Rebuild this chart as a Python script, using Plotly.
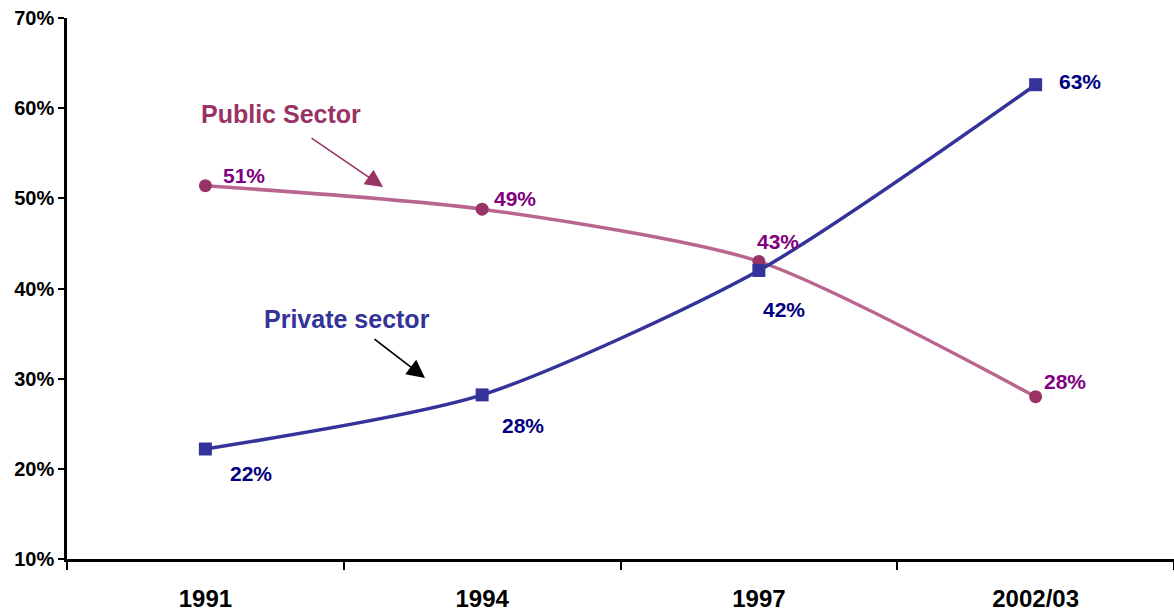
import plotly.graph_objects as go

categories = ["1991", "1994", "1997", "2002/03"]
public_sector = [51.4, 48.8, 43.0, 28.0]
private_sector = [22.2, 28.2, 42.0, 62.6]
public_labels = ["51%", "49%", "43%", "28%"]
private_labels = ["22%", "28%", "42%", "63%"]
y_ticks = [10, 20, 30, 40, 50, 60, 70]
y_tick_labels = ["10%", "20%", "30%", "40%", "50%", "60%", "70%"]

FONT = "Liberation Sans, Arial, sans-serif"
PUB_LINE = "#b8668f"
PUB_MARK = "#993366"
PUB_TEXT = "#800080"
PRI_LINE = "#333399"
PRI_TEXT = "#000080"

idx = list(range(len(categories)))

fig = go.Figure()
fig.add_trace(go.Scatter(
    x=idx, y=public_sector, mode="lines+markers",
    line=dict(color=PUB_LINE, width=3.5, shape="spline", smoothing=0.7),
    marker=dict(symbol="circle", size=13, color=PUB_MARK),
    showlegend=False, hoverinfo="skip",
))
fig.add_trace(go.Scatter(
    x=idx, y=private_sector, mode="lines+markers",
    line=dict(color=PRI_LINE, width=3.5, shape="spline", smoothing=0.7),
    marker=dict(symbol="square", size=13, color=PRI_LINE),
    showlegend=False, hoverinfo="skip",
))

annotations = []
pub_shift = [(39, 10), (33, 11), (19, 20), (29, 15)]
pri_shift = [(46, -24), (41, -31), (25, -39), (44, 3)]
for i, v, t, (dx, dy) in zip(idx, public_sector, public_labels, pub_shift):
    annotations.append(dict(x=i, y=v, text="<b>%s</b>" % t, showarrow=False,
                            xshift=dx, yshift=dy, xanchor="center", yanchor="middle",
                            font=dict(family=FONT, size=21, color=PUB_TEXT)))
for i, v, t, (dx, dy) in zip(idx, private_sector, private_labels, pri_shift):
    annotations.append(dict(x=i, y=v, text="<b>%s</b>" % t, showarrow=False,
                            xshift=dx, yshift=dy, xanchor="center", yanchor="middle",
                            font=dict(family=FONT, size=21, color=PRI_TEXT)))

annotations += [
    dict(xref="paper", yref="paper", x=0.1933, y=0.8226, text="<b>Public Sector</b>",
         showarrow=False, xanchor="center", yanchor="middle",
         font=dict(family=FONT, size=25, color=PUB_MARK)),
    dict(xref="paper", yref="paper", x=0.2529, y=0.4436, text="<b>Private sector</b>",
         showarrow=False, xanchor="center", yanchor="middle",
         font=dict(family=FONT, size=25, color=PRI_LINE)),
    dict(xref="paper", yref="paper", x=0.2855, y=0.6876, ax=-73, ay=-50, text="",
         showarrow=True, arrowhead=2, arrowsize=2.2, arrowwidth=1.6, arrowcolor=PUB_MARK),
    dict(xref="paper", yref="paper", x=0.3234, y=0.3346, ax=-52, ay=-40, text="",
         showarrow=True, arrowhead=2, arrowsize=2.0, arrowwidth=1.8, arrowcolor="black"),
]

fig.update_layout(
    width=1174, height=614,
    margin=dict(l=67, r=0, t=18, b=55),
    paper_bgcolor="white", plot_bgcolor="white",
    font=dict(family=FONT),
    annotations=annotations,
    xaxis=dict(
        range=[-0.5, 3.5], automargin=False,
        tickvals=idx, ticktext=["<b>%s</b>" % c for c in categories],
        ticks="", showline=True, linecolor="black", linewidth=2.5,
        showgrid=False, zeroline=False,
        tickfont=dict(family=FONT, size=24, color="black"),
        ticklabelstandoff=16,
        minor=dict(tickvals=[-0.5, 0.5, 1.5, 2.5, 3.5], ticks="outside",
                   ticklen=8, tickwidth=2, tickcolor="black", showgrid=False),
    ),
    yaxis=dict(
        range=[10, 70], tickvals=y_ticks, automargin=False,
        ticktext=["<b>%s</b>" % t for t in y_tick_labels],
        ticks="outside", ticklen=6, tickwidth=2, tickcolor="black",
        showline=True, linecolor="black", linewidth=2.5,
        showgrid=False, zeroline=False,
        tickfont=dict(family=FONT, size=20, color="black"),
    ),
)

fig.write_html("out.html")
